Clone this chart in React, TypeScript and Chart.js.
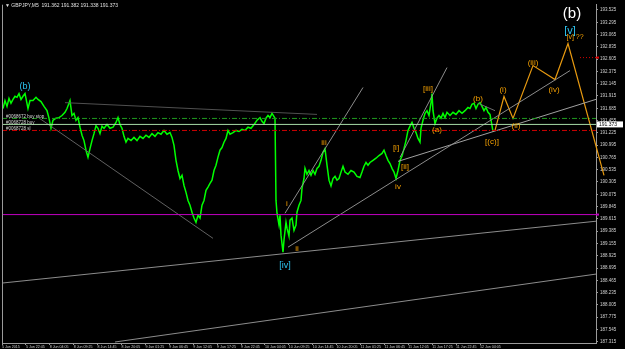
import { useEffect, useRef } from "react";
import { Chart, registerables } from "chart.js";
Chart.register(...registerables);

// ---- axis ticks ----
const yTickValues = [
  187.315, 187.545, 187.775, 188.005, 188.235, 188.465, 188.695, 188.925, 189.155, 189.385,
  189.615, 189.845, 190.075, 190.305, 190.535, 190.765, 190.995, 191.225, 191.455, 191.685,
  191.915, 192.145, 192.375, 192.605, 192.835, 193.065, 193.295, 193.525,
];
const xTickLabels = [
  "5 Jun 2015", "5 Jun 22:45", "8 Jun 04:05", "8 Jun 09:25", "8 Jun 14:45", "8 Jun 20:05",
  "9 Jun 01:25", "9 Jun 06:45", "9 Jun 12:05", "9 Jun 17:25", "9 Jun 22:45", "10 Jun 04:05",
  "10 Jun 09:25", "10 Jun 14:45", "10 Jun 20:05", "11 Jun 01:25", "11 Jun 06:45", "11 Jun 12:05",
  "11 Jun 17:25", "11 Jun 22:45", "12 Jun 04:05",
];
const xTickSlots = xTickLabels.map((_, i) => i * 23.9);

// ---- GBPJPY M5 close (bar slot, price) ----
const priceSlots = [
  1, 3, 5, 7, 9, 11, 13, 15, 17, 19, 21, 23, 24, 26, 28, 31, 34, 36, 39, 42, 45, 47, 49, 51, 54, 57, 60, 63, 65, 67,
  68, 70, 72, 74, 76, 78, 80, 82, 84, 86, 88, 90, 92, 94, 96, 98, 100, 102, 105, 108, 111, 114, 116, 118, 120, 122, 124, 126, 129, 132,
  135, 138, 141, 144, 147, 150, 153, 156, 159, 162, 165, 168, 170, 172, 174, 176, 178, 180, 182, 184, 186, 188, 190, 192, 194, 196, 198, 200, 202, 204,
  206, 208, 210, 212, 214, 216, 218, 220, 222, 224, 226, 228, 231, 234, 237, 240, 243, 246, 249, 252, 255, 258, 260, 262, 264, 266, 268, 270, 272, 273,
  274, 275, 277, 278, 279, 281, 282, 284, 285, 287, 288, 290, 292, 294, 295, 297, 299, 300, 302, 303, 305, 307, 309, 311, 313, 315, 317, 319, 321, 323,
  325, 327, 329, 331, 333, 335, 337, 339, 341, 343, 346, 349, 352, 355, 358, 360, 362, 364, 366, 368, 371, 374, 377, 380, 382, 384, 386, 388, 390, 392,
  394, 396, 398, 400, 402, 404, 406, 408, 410, 412, 414, 416, 418, 419, 421, 423, 425, 427, 429, 430, 431, 433, 435, 437, 439, 441, 443, 445, 448, 451,
  454, 457, 460, 463, 466, 468, 470, 472, 474, 476, 478, 480, 482, 484, 486, 488, 490, 491,
];
const priceValues = [
  191.68, 191.83, 191.72, 191.87, 191.78, 191.85, 191.91, 191.89, 191.96, 191.85, 191.91, 191.96, 191.87, 191.68, 191.83, 191.83, 191.89, 191.85, 191.81, 191.72, 191.64, 191.5, 191.31, 191.46, 191.5, 191.51, 191.55, 191.61, 191.68, 191.78,
  191.83, 191.55, 191.59, 191.46, 191.51, 191.33, 191.18, 191.08, 190.9, 190.77, 190.93, 191.08, 191.21, 191.36, 191.31, 191.21, 191.35, 191.31, 191.38, 191.31, 191.33, 191.42, 191.51, 191.38, 191.31, 191.16, 191.05, 191.12, 191.08, 191.14,
  191.08, 191.16, 191.12, 191.18, 191.14, 191.21, 191.16, 191.23, 191.2, 191.27, 191.2, 191.23, 191.14, 190.99, 190.71, 190.52, 190.37, 190.43, 190.24, 190.11, 189.96, 189.87, 189.74, 189.63, 189.55, 189.68, 189.63, 189.87, 189.96, 190.15,
  190.21, 190.28, 190.34, 190.52, 190.62, 190.77, 190.9, 190.95, 191.05, 191.12, 191.27, 191.2, 191.23, 191.27, 191.25, 191.29, 191.27, 191.33, 191.31, 191.38, 191.46, 191.51, 191.44, 191.4, 191.5, 191.55, 191.51, 191.59, 191.53, 191.5,
  189.96, 189.72, 189.5, 189.68, 189.31, 188.99, 189.22, 189.55, 189.44, 189.29, 189.59, 189.63, 189.4, 189.5, 189.74, 189.87, 189.96, 190.19, 190.37, 190.56, 190.45, 190.52, 190.43, 190.52, 190.45, 190.56, 190.6, 190.71, 190.86, 190.93,
  190.62, 190.34, 190.23, 190.37, 190.41, 190.34, 190.37, 190.49, 190.6, 190.49, 190.45, 190.52, 190.49, 190.41, 190.39, 190.49, 190.6, 190.67, 190.62, 190.67, 190.71, 190.75, 190.8, 190.84, 190.9, 190.8, 190.71, 190.65, 190.56, 190.49,
  190.37, 190.52, 190.71, 190.79, 190.93, 191.08, 191.27, 191.35, 191.42, 191.31, 191.23, 191.12, 191.05, 191.31, 191.46, 191.59, 191.64, 191.55, 191.79, 191.96, 191.64, 191.4, 191.5, 191.55, 191.5, 191.59, 191.51, 191.61, 191.55, 191.61,
  191.57, 191.64, 191.59, 191.64, 191.7, 191.68, 191.76, 191.78, 191.68, 191.76, 191.79, 191.72, 191.64, 191.7, 191.61, 191.57, 191.36, 191.25,
];

// ---- Elliott projection (orange) ----
const projSlots = [493, 502, 511, 531, 553, 566, 602];
const projValues = [191.27, 191.906, 191.495, 192.485, 192.223, 192.896, 190.43];

// ---- trend lines: [slot1, price1, slot2, price2] ----
const trendTopLeft = [63, 191.79, 315, 191.57];
const trendDownLeft = [38, 191.49, 211, 189.25];
const trendLongA = [0, 188.413, 594, 189.571];
const trendLongB = [113, 187.31, 594, 188.581];
const trendFromII = [286, 189.085, 568, 192.391];
const trendChannel = [396, 190.691, 594, 191.852];
const trendSteep1 = [283, 189.72, 361, 192.074];
const trendSteep2 = [398, 190.766, 445, 192.447];
const trendShort = [476, 191.78, 493, 191.64];

// ---- horizontal levels ----
const levelBuyStop = 191.495;
const levelBuy = 191.383;
const levelSL = 191.27;
const levelMagenta = 189.695;
const levelRedDot = 192.634;
const lastPrice = "191.373";

// ---- wave labels: text, slot, price ----
const waveText = ["(b)", "[iv]", "(b)", "[v]", "[v] ??", "(iii)", "(iv)", "(i)", "(ii)", "(b)", "(a)", "[iii]", "[i]", "[ii]", "iv", "[(c)]", "iii", "i", "ii"];
const waveSlot = [23, 283, 570, 568, 573, 531, 552, 501, 514, 476, 435, 426, 394, 403, 396, 490, 322, 285, 295];
const wavePrice = [192.09, 188.75, 193.456, 193.139, 193.027, 192.54, 192.037, 192.037, 191.364, 191.868, 191.289, 192.055, 190.953, 190.598, 190.206, 191.065, 191.046, 189.888, 189.048];

const CYAN = "#2cc6f2";
const ORANGE = "#f5a000";
const waveColor = [CYAN, CYAN, "#ffffff", CYAN, ORANGE, ORANGE, ORANGE, ORANGE, ORANGE, ORANGE, ORANGE, ORANGE, ORANGE, ORANGE, ORANGE, ORANGE, ORANGE, ORANGE, ORANGE];
const waveSize = [9, 9, 15, 11, 7, 8, 8, 8, 8, 8, 8, 8, 8, 8, 8, 8, 8, 8, 8];

const FONT = "'Liberation Sans', Arial, sans-serif";

function seg(a: number[], color: string, width = 1, dash: number[] = []) {
  return {
    data: [{ x: a[0], y: a[1] }, { x: a[2], y: a[3] }],
    borderColor: color,
    borderWidth: width,
    borderDash: dash,
    pointRadius: 0,
    tension: 0,
  };
}
function hline(p: number, color: string, dash: number[] = [], x1 = 0, x2 = 594) {
  return seg([x1, p, x2, p], color, 1, dash);
}

const overlayPlugin = {
  id: "overlay",
  beforeDraw(chart: any) {
    const c = chart.ctx;
    c.save();
    c.fillStyle = "#000";
    c.fillRect(0, 0, chart.width, chart.height);
    c.restore();
  },
  afterDraw(chart: any) {
    const c = chart.ctx;
    const xs = chart.scales.x;
    const ys = chart.scales.y;
    const a = chart.chartArea;
    c.save();
    // left frame
    c.strokeStyle = "#9a9a9a";
    c.lineWidth = 1;
    c.beginPath();
    c.moveTo(a.left + 0.5, a.top);
    c.lineTo(a.left + 0.5, a.bottom);
    c.stroke();
    // header
    c.fillStyle = "#e0e0e0";
    c.font = `5px ${FONT}`;
    c.textBaseline = "middle";
    c.textAlign = "left";
    c.fillText("\u25BC GBPJPY,M5  191.362 191.382 191.338 191.373", a.left + 3, 6);
    // order labels
    c.font = `4.5px ${FONT}`;
    c.fillStyle = "#d8d8d8";
    c.fillText("#0068672 buy stop", a.left + 4, ys.getPixelForValue(levelBuyStop) - 2);
    c.fillText("#0068728 buy", a.left + 4, ys.getPixelForValue(levelBuy) - 2);
    c.fillText("#0068728 sl", a.left + 4, ys.getPixelForValue(levelSL) - 2);
    // wave labels
    c.textAlign = "center";
    for (let i = 0; i < waveText.length; i++) {
      c.fillStyle = waveColor[i];
      c.font = `${waveSize[i]}px ${FONT}`;
      c.fillText(waveText[i], xs.getPixelForValue(waveSlot[i]), ys.getPixelForValue(wavePrice[i]));
    }
    // axis markers
    const py = ys.getPixelForValue(levelBuy);
    c.fillStyle = "#ffffff";
    c.fillRect(a.right + 1, py - 3, 26, 6);
    c.fillStyle = "#000";
    c.font = `5px ${FONT}`;
    c.textAlign = "left";
    c.fillText(lastPrice, a.right + 3, py);
    c.fillStyle = "#e00000";
    c.fillRect(a.right, ys.getPixelForValue(levelRedDot) - 1, 3, 2);
    c.fillStyle = "#c000c0";
    c.fillRect(a.right, ys.getPixelForValue(levelMagenta) - 1, 3, 2);
    c.restore();
  },
};

export default function App() {
  const ref = useRef<HTMLCanvasElement>(null);
  useEffect(() => {
    document.body.style.margin = "0";
    document.body.style.background = "#000";
    const canvas = ref.current!;
    const priceData = priceSlots.map((s, i) => ({ x: s, y: priceValues[i] }));
    const projData = projSlots.map((s, i) => ({ x: s, y: projValues[i] }));
    const grey = "#8c8c8c";
    const chart = new Chart(canvas, {
      type: "line",
      data: {
        datasets: [
          hline(levelMagenta, "#c000c0"),
          hline(levelBuyStop, "#1f9a1f", [5, 2, 1, 2]),
          hline(levelBuy, "#a8dca8"),
          hline(levelSL, "#d00000", [5, 2, 1, 2]),
          hline(levelRedDot, "#d00000", [1, 2], 578, 594),
          seg(trendTopLeft, "#505050"),
          seg(trendDownLeft, "#606060"),
          seg(trendLongA, grey),
          seg(trendLongB, grey),
          seg(trendFromII, grey),
          seg(trendChannel, "#a0a0a0"),
          seg(trendSteep1, grey),
          seg(trendSteep2, grey),
          seg(trendShort, "#707070"),
          {
            data: priceData,
            borderColor: "#00ff00",
            borderWidth: 1.5,
            pointRadius: 0,
            tension: 0,
          },
          {
            data: projData,
            borderColor: "#e89a10",
            borderWidth: 1.2,
            pointRadius: 0,
            tension: 0,
            clip: false,
          },
        ] as any,
      },
      options: {
        responsive: false,
        animation: false,
        devicePixelRatio: 1,
        parsing: false as any,
        normalized: true,
        layout: { padding: { left: 2, top: 4, right: 0, bottom: 0 } },
        plugins: { legend: { display: false }, tooltip: { enabled: false } },
        events: [],
        scales: {
          x: {
            type: "linear",
            min: 0,
            max: 594,
            afterBuildTicks: (s: any) => {
              s.ticks = xTickSlots.map((v) => ({ value: v }));
            },
            afterFit: (s: any) => {
              s.height = 6;
            },
            grid: { display: true, drawOnChartArea: false, drawTicks: true, tickLength: 2, color: "#9a9a9a" },
            border: { display: true, color: "#9a9a9a" },
            ticks: {
              autoSkip: false,
              maxRotation: 0,
              minRotation: 0,
              align: "start",
              padding: 0,
              color: "#d0d0d0",
              font: { size: 3.6, family: FONT },
              callback: (_v: any, i: number) => xTickLabels[i],
            },
          },
          y: {
            type: "linear",
            position: "right",
            min: 187.291,
            max: 193.624,
            afterBuildTicks: (s: any) => {
              s.ticks = yTickValues.map((v) => ({ value: v }));
            },
            afterFit: (s: any) => {
              s.width = 29;
            },
            grid: { display: true, drawOnChartArea: false, drawTicks: true, tickLength: 2, color: "#9a9a9a" },
            border: { display: true, color: "#9a9a9a" },
            ticks: {
              autoSkip: false,
              padding: 2,
              color: "#d0d0d0",
              font: { size: 4.5, family: FONT },
              callback: (v: any) => Number(v).toFixed(3),
            },
          },
        },
      },
      plugins: [overlayPlugin],
    } as any);
    return () => chart.destroy();
  }, []);
  return <canvas ref={ref} width={625} height={349} style={{ display: "block", width: 625, height: 349 }} />;
}
